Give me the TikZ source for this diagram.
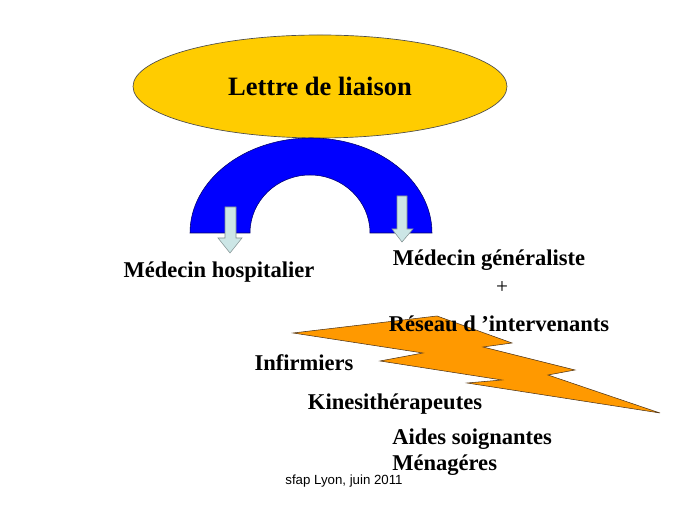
\documentclass[tikz,border=0pt]{standalone}
\usepackage{fontspec}
\setmainfont{Liberation Serif}
\newfontfamily\footfont{Liberation Sans}
\definecolor{letterGold}{HTML}{FFCC00}
\definecolor{archBlue}{HTML}{0000FF}
\definecolor{boltOrange}{HTML}{FF9900}
\definecolor{arrowPale}{HTML}{CCE6E6}
\definecolor{edgeGrey}{HTML}{7F8F8F}
\usetikzlibrary{shapes, positioning}

\begin{document}
\begin{tikzpicture}[
        x=0.0265cm, y=0.0265cm,
        role/.style={font=\fontsize{17}{20}\selectfont\bfseries, inner sep=0pt},
        downarrow/.style={fill=arrowPale, draw=edgeGrey, line width=0.4pt}
      ]
        \useasboundingbox[fill=white] (0,0) rectangle (689,517);
        % letter on top
        \node[ellipse, draw=black!70, fill=letterGold, line width=0.5pt, minimum width=374*0.0265cm,
              minimum height=103*0.0265cm, font=\fontsize{20}{24}\selectfont\bfseries] (lettre) at (320,430.5) {Lettre de liaison};
        % blue bridge
        \draw[fill=archBlue, draw=blue!40!black, line width=0.4pt] (190,284) arc[start angle=180, end angle=0, x radius=121, y radius=95]
              -- (370,284) arc[start angle=0, end angle=180, x radius=60, y radius=58] -- cycle;
        \draw[downarrow] (225,310) -- (236,310) -- (236,279) -- (242,279) -- (230,264) -- (218,279) -- (225,279) -- cycle;
        \draw[downarrow] (397,321) -- (407,321) -- (407,288) -- (413,288) -- (402,275) -- (392,288) -- (397,288) -- cycle;
        % lightning
        \draw[fill=boltOrange, draw=black!60!brown, line width=0.4pt] (293,184) -- (437,201) -- (512,174) -- (483,170) -- (575,147)
              -- (548,142) -- (660,104) -- (467,134) -- (502,137) -- (380,156) -- (423,164) -- cycle;
        \node[role] (hosp) at (219,245) {Médecin hospitalier};
        \node[role] (gen) at (489,257) {Médecin généraliste};
        \node[role, font=\fontsize{16}{18}\selectfont] (plus) at (502,229) {+};
        \node[role] (reseau) at (499,193) {Réseau d ’intervenants};
        \node[role] (infirm) at (304,154) {Infirmiers};
        \node[role] (kine) at (395,113) {Kinesithérapeutes};
        \node[role, anchor=west] (aides) at (392,78) {Aides soignantes};
        \node[role, anchor=west] (menag) at (392,52) {Ménagéres};
        \node[inner sep=0pt, font=\footfont\fontsize{10}{12}\selectfont] (footer) at (344,36) {sfap Lyon, juin 2011};
      \end{tikzpicture}
\end{document}
